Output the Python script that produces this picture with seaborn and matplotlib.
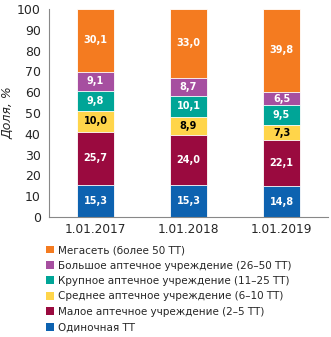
import numpy as np
import pandas as pd
import matplotlib
matplotlib.use("Agg")
import matplotlib.pyplot as plt
import seaborn as sns
from matplotlib.patches import Patch

categories = ["1.01.2017", "1.01.2018", "1.01.2019"]
series_names = [
    "Одиночная ТТ",
    "Малое аптечное учреждение (2–5 ТТ)",
    "Среднее аптечное учреждение (6–10 ТТ)",
    "Крупное аптечное учреждение (11–25 ТТ)",
    "Большое аптечное учреждение (26–50 ТТ)",
    "Мегасеть (более 50 ТТ)",
]
single = [15.3, 15.3, 14.8]
small = [25.7, 24.0, 22.1]
medium = [10.0, 8.9, 7.3]
large = [9.8, 10.1, 9.5]
big = [9.1, 8.7, 6.5]
mega = [30.1, 33.0, 39.8]
colors = ["#0D62B0", "#9A0A3F", "#FFD54A", "#00A597", "#A64FA0", "#F47B20"]
text_colors = ["white", "white", "black", "white", "white", "white"]

values = [single, small, medium, large, big, mega]

sns.set_style("white")
plt.rcParams["font.family"] = ["DejaVu Sans"]

fig = plt.figure(figsize=(3.31, 3.37), dpi=100)
ax = fig.add_axes([0.148, 0.356, 0.843, 0.617])

cum = np.cumsum(np.array(values), axis=0)
# draw from top layer down so lower layers cover upper ones
for i in range(len(values) - 1, -1, -1):
    df = pd.DataFrame({"cat": categories, "val": cum[i]})
    sns.barplot(data=df, x="cat", y="val", color=colors[i], width=0.4,
                saturation=1, edgecolor="white", linewidth=0.6, ax=ax)

for i, vals in enumerate(values):
    base = cum[i] - np.array(vals)
    for j, v in enumerate(vals):
        ax.text(j, base[j] + v / 2, f"{v:.1f}".replace(".", ","),
                ha="center", va="center", fontsize=7, fontweight="bold",
                color=text_colors[i])

ax.set_xlim(-0.5, 2.5)
ax.set_ylim(0, 100)
ax.set_yticks(range(0, 101, 10))
ax.set_xlabel("")
ax.set_ylabel("Доля, %", fontsize=9, style="italic", labelpad=2)
ax.set_xticks([0.5, 1.5, 2.5], minor=False)
ax.set_xticklabels([])
ax.set_xticks([0, 1, 2], minor=True)
ax.set_xticklabels(categories, minor=True, fontsize=8.7)
ax.tick_params(axis="x", which="minor", length=0, pad=4)
ax.tick_params(axis="x", which="major", length=4, color="#888888", direction="out")
ax.tick_params(axis="y", length=4, color="#888888", labelsize=9, pad=2, direction="out")
for s in ["top", "right"]:
    ax.spines[s].set_visible(False)
for s in ["left", "bottom"]:
    ax.spines[s].set_color("#888888")
    ax.spines[s].set_linewidth(0.8)

handles = [Patch(facecolor=colors[i], edgecolor="none") for i in range(len(values) - 1, -1, -1)]
labels = [series_names[i] for i in range(len(values) - 1, -1, -1)]
fig.legend(handles, labels, loc="upper left", bbox_to_anchor=(0.125, 0.285),
           frameon=False, fontsize=7.5, handlelength=0.8, handleheight=0.8,
           handletextpad=0.35, labelspacing=0.52, borderaxespad=0)

fig.savefig("out.png", dpi=100)
